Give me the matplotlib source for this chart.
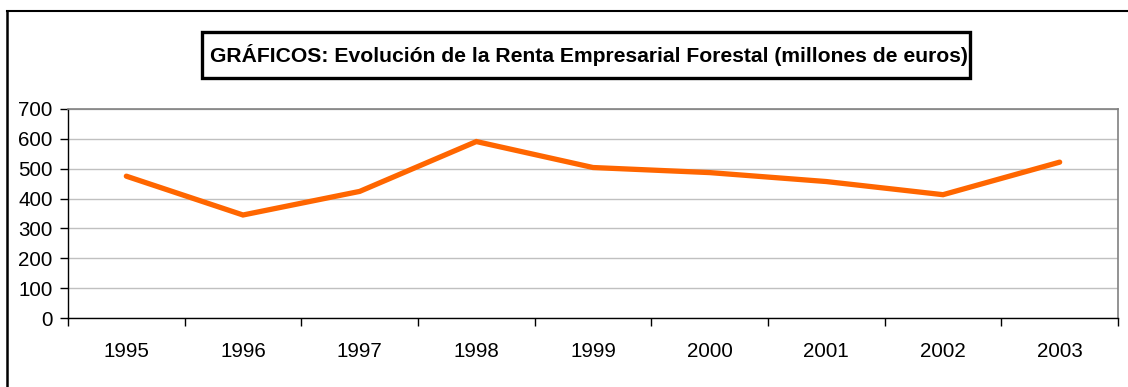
import matplotlib
matplotlib.use("Agg")
import matplotlib.pyplot as plt
from matplotlib.lines import Line2D
from matplotlib.patches import Rectangle

plt.rcParams['font.family'] = ['Liberation Sans', 'DejaVu Sans']

# Renta Empresarial Forestal, millones de euros
years = ["1995", "1996", "1997", "1998", "1999", "2000", "2001", "2002", "2003"]
renta = [475, 345, 424, 591, 504, 487, 457, 413, 522]
y_ticks = [0, 100, 200, 300, 400, 500, 600, 700]
title = "GRÁFICOS: Evolución de la Renta Empresarial Forestal (millones de euros)"

W, H = 1128, 387
fig = plt.figure(figsize=(W / 100, H / 100), dpi=100)
fig.patch.set_facecolor("white")

# plot area in pixel coordinates
left, right, top, bottom = 68, 1118, 109, 318
ax = fig.add_axes([left / W, 1 - bottom / H, (right - left) / W, (bottom - top) / H])

x = list(range(len(years)))
ax.plot(x, renta, color="#FF6600", lw=3.8, solid_capstyle="round",
        solid_joinstyle="miter", zorder=3)

ax.set_xlim(-0.5, len(years) - 0.5)
ax.set_ylim(0, 700)
ax.set_yticks(y_ticks)
ax.set_yticklabels([str(v) for v in y_ticks])
ax.yaxis.grid(True, color="#c0c0c0", lw=1.0)
ax.set_axisbelow(True)

# category ticks sit between the years, labels centred on each year
ax.set_xticks([i - 0.5 for i in range(len(years) + 1)])
ax.set_xticklabels([])
ax.set_xticks(x, minor=True)
ax.set_xticklabels(years, minor=True)
ax.tick_params(axis="x", which="major", direction="out", length=6, width=1, color="black")
ax.tick_params(axis="x", which="minor", length=0, pad=17, labelsize=14.8)
ax.tick_params(axis="y", direction="out", length=6, width=1, color="black",
               labelsize=14.8, pad=5)

for s in ["left", "bottom"]:
    ax.spines[s].set_color("black")
    ax.spines[s].set_linewidth(1.0)
for s in ["top", "right"]:
    ax.spines[s].set_color("#808080")
    ax.spines[s].set_linewidth(1.2)

# title in its framed box
fig.patches.append(Rectangle((202 / W, 1 - 78 / H), (970 - 202) / W, (78 - 32) / H,
                             transform=fig.transFigure, fill=False,
                             edgecolor="black", lw=2.4))
fig.text(589 / W, 1 - 55 / H, title, ha="center", va="center",
         fontsize=15.2, fontweight="bold", color="black")

# outer frame (left and top edges)
fig.add_artist(Line2D([7 / W, 7 / W], [0, 1 - 11 / H], transform=fig.transFigure,
                      color="black", lw=1.8))
fig.add_artist(Line2D([7 / W, 1], [1 - 11 / H, 1 - 11 / H], transform=fig.transFigure,
                      color="black", lw=1.5))

fig.savefig("out.png", dpi=100, facecolor="white")
